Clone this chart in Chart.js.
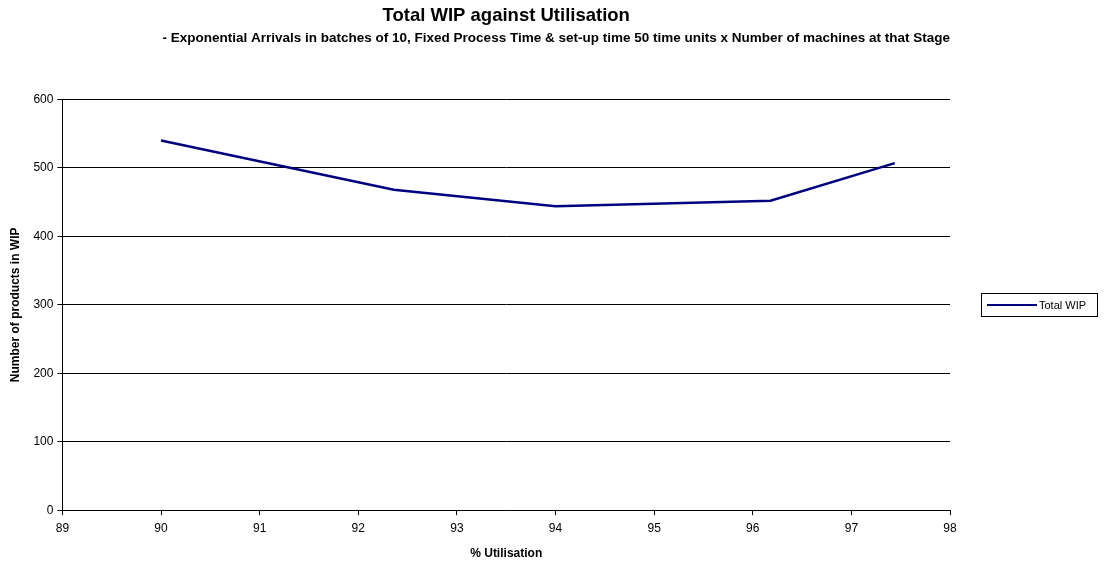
<!DOCTYPE html>
<html>
<head>
<meta charset="utf-8">
<script src="https://cdn.jsdelivr.net/npm/chart.js@4.4.0/dist/chart.umd.min.js"></script>
<style>
  html, body { margin: 0; padding: 0; background: #fff; }
  #wrap { position: relative; width: 1110px; height: 565px; }
  #legend {
    position: absolute; left: 981px; top: 293px; width: 117px; height: 24px;
    border: 1px solid #000; box-sizing: border-box;
    font: 11px Arial, "Liberation Sans", sans-serif; color: #000;
    display: flex; align-items: center;
  }
  #legend span.sw { display: inline-block; width: 50px; height: 2px; background: #000080; margin-left: 5px; margin-right: 2px; }
</style>
</head>
<body>
<div id="wrap">
  <canvas id="myChart" width="1110" height="565"></canvas>
  <div id="legend"><span class="sw"></span><span>Total WIP</span></div>
</div>
<script>
// valores
const utilisation = [90, 92.36, 94.0, 96.18, 97.44];
const totalWip = [540, 468, 444, 452, 507];
const xTicks = [89, 90, 91, 92, 93, 94, 95, 96, 97, 98];
const yTicks = [0, 100, 200, 300, 400, 500, 600];

const fonte = 'Arial, "Liberation Sans", sans-serif';

const ctx = document.getElementById('myChart').getContext('2d');
const myChart = new Chart(ctx, {
  type: 'line',
  data: {
    datasets: [{
      label: 'Total WIP',
      data: utilisation.map((u, i) => ({ x: u, y: totalWip[i] })),
      borderColor: '#000080',
      borderWidth: 2.5,
      pointRadius: 0,
      fill: false,
      tension: 0
    }]
  },
  options: {
    responsive: false,
    animation: false,
    layout: { padding: { left: 8, right: 160, top: 0, bottom: 4 } },
    plugins: {
      legend: { display: false },
      tooltip: { enabled: false },
      title: {
        display: true,
        fullSize: false, // centrado sobre a area do grafico
        text: 'Total WIP against Utilisation',
        color: '#000',
        font: { family: fonte, size: 18.5, weight: 'bold' },
        padding: { top: 5, bottom: 3 }
      },
      subtitle: {
        display: true,
        align: 'end',
        text: '- Exponential Arrivals in batches of 10, Fixed Process Time & set-up time 50 time units x Number of machines at that Stage',
        color: '#000',
        font: { family: fonte, size: 13.5, weight: 'bold' },
        padding: { top: 0, bottom: 53 }
      }
    },
    scales: {
      x: {
        type: 'linear',
        min: xTicks[0],
        max: xTicks[xTicks.length - 1],
        afterBuildTicks: axis => { axis.ticks = xTicks.map(v => ({ value: v })); },
        ticks: { color: '#000', font: { family: fonte, size: 12 }, padding: 6, maxRotation: 0 },
        grid: { drawOnChartArea: false, drawTicks: true, tickLength: 5, color: '#000' },
        border: { color: '#000', width: 1 },
        title: {
          display: true,
          text: '% Utilisation',
          color: '#000',
          font: { family: fonte, size: 12, weight: 'bold' },
          padding: { top: 5, bottom: 0 }
        }
      },
      y: {
        min: yTicks[0],
        max: yTicks[yTicks.length - 1],
        afterBuildTicks: axis => { axis.ticks = yTicks.map(v => ({ value: v })); },
        ticks: { color: '#000', font: { family: fonte, size: 12 }, padding: 4 },
        grid: { color: '#000', tickLength: 5 },
        border: { color: '#000', width: 1 },
        title: {
          display: true,
          text: 'Number of products in WIP',
          color: '#000',
          font: { family: fonte, size: 12, weight: 'bold' },
          padding: { top: 0, bottom: 7 }
        }
      }
    }
  }
});
</script>
</body>
</html>
